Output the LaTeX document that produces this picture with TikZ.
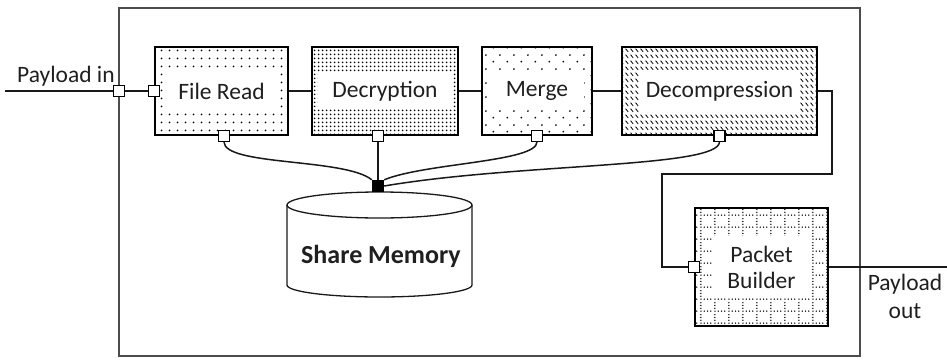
\documentclass[tikz,border=0pt]{standalone}
\usepackage{fontspec}
\setmainfont{Carlito}
\usetikzlibrary{patterns}

% fill patterns of the processing stages
\pgfdeclarepatternformonly{sparsedots}{\pgfpoint{0pt}{0pt}}{\pgfpoint{7.5pt}{7.5pt}}{\pgfpoint{7.5pt}{7.5pt}}{%
  \pgfpathcircle{\pgfpoint{3.75pt}{3.75pt}}{1.05pt}\pgfusepath{fill}}
\pgfdeclarepatternformonly{densedots}{\pgfpoint{0pt}{0pt}}{\pgfpoint{3.6pt}{3.6pt}}{\pgfpoint{3.6pt}{3.6pt}}{%
  \pgfpathcircle{\pgfpoint{1.8pt}{1.8pt}}{1.05pt}\pgfusepath{fill}}
\pgfdeclarepatternformonly{staggerdots}{\pgfpoint{0pt}{0pt}}{\pgfpoint{14pt}{14pt}}{\pgfpoint{14pt}{14pt}}{%
  \pgfpathcircle{\pgfpoint{3.5pt}{3.5pt}}{1.05pt}%
  \pgfpathcircle{\pgfpoint{10.5pt}{10.5pt}}{1.05pt}\pgfusepath{fill}}
\pgfdeclarepatternformonly{shorthatch}{\pgfpoint{0pt}{0pt}}{\pgfpoint{5pt}{6pt}}{\pgfpoint{5pt}{6pt}}{%
  \pgfsetlinewidth{0.95pt}%
  \pgfpathmoveto{\pgfpoint{0.7pt}{5pt}}\pgfpathlineto{\pgfpoint{3.8pt}{1.2pt}}\pgfusepath{stroke}}
\pgfdeclarepatternformonly{dotgrid}{\pgfpoint{0pt}{0pt}}{\pgfpoint{14pt}{12pt}}{\pgfpoint{14pt}{12pt}}{%
  \foreach \k in {0,1,2,3}{\pgfpathcircle{\pgfpoint{1pt}{\k*3pt+1pt}}{0.8pt}}%
  \foreach \k in {1,2,3}{\pgfpathcircle{\pgfpoint{\k*3.5pt+1pt}{1pt}}{0.8pt}}%
  \pgfusepath{fill}}

% pattern over the whole box, a white field behind the label
\newcommand\stagefill[3]{%
  \fill[pattern=#1] (path picture bounding box.south west) rectangle (path picture bounding box.north east);
  \fill[white] ([xshift=#2,yshift=#3]path picture bounding box.south west)
    rectangle ([xshift=-#2,yshift=-#3]path picture bounding box.north east);}

\tikzset{
  stage/.style={draw, line width=1.6pt, inner sep=0pt, align=center,
    font=\fontsize{23.5}{26}\selectfont, text=black!88},
  port/.style={draw, fill=white, line width=1.2pt, minimum size=11pt, inner sep=0pt},
  junction/.style={fill=black, minimum size=12pt, inner sep=0pt},
  wire/.style={line width=1.5pt, black!90},
  frame/.style={line width=2.2pt, black!70},
  label/.style={font=\fontsize{23.5}{28}\selectfont, text=black!88, inner sep=0pt, align=center},
  store/.style={line width=1.3pt, black!90}
}

\begin{document}
\begin{tikzpicture}[x=1pt, y=-1pt]
\useasboundingbox (0,0) rectangle (947,359);

% enclosing unit
\draw[frame] (119,8) rectangle (860,356);

% processing stages
\node[stage, minimum width=133pt, minimum height=88pt,
      path picture={\stagefill{sparsedots}{8pt}{23pt}}] (fr) at (221.5,91) {File Read};
\node[stage, minimum width=146pt, minimum height=88pt,
      path picture={\stagefill{densedots}{6pt}{26pt}}] (de) at (385,91) {Decryption};
\node[stage, minimum width=110pt, minimum height=88pt,
      path picture={\stagefill{staggerdots}{8pt}{25pt}}] (me) at (537,91) {Merge};
\node[stage, minimum width=195pt, minimum height=88pt,
      path picture={\stagefill{shorthatch}{18pt}{23pt}}] (dc) at (719.5,91) {Decompression};
\node[stage, minimum width=133pt, minimum height=118pt,
      path picture={\stagefill{dotgrid}{17pt}{28pt}}] (pb) at (761.5,267) {Packet\\Builder};

% shared memory store
\draw[store, fill=white] (287,205) -- (287,285)
  arc[start angle=180, end angle=360, x radius=92.5pt, y radius=12pt]
  -- (472,205);
\draw[store] (379.5,205) ellipse [x radius=92.5pt, y radius=13pt];
\node[label, font=\fontsize{26}{30}\selectfont\bfseries] (mem) at (381,256) {Share Memory};

% ports and junction
\node[junction] (jn) at (378,186) {};
\node[port] (pIn) at (119,91) {};
\node[port] (frIn) at (fr.west) {};
\node[port] (frB) at ([xshift=2.5pt]fr.south) {};
\node[port] (deB) at (de.south -| jn) {};
\node[port] (meB) at (me.south) {};
\node[port] (dcB) at (dc.south) {};
\node[port] (pbIn) at (pb.west) {};

\coordinate (src) at (5,91);
\coordinate (sink) at (947,267);

% data path
\draw[wire] (src) -- (pIn);
\draw[wire] (pIn) -- (frIn);
\draw[wire] (fr) -- (de);
\draw[wire] (de) -- (me);
\draw[wire] (me) -- (dc);
\draw[wire] (dc.east) -- (832,91) -- (832,174) -- (662,174) |- (pbIn);
\draw[wire] (pb.east) -- (sink);

% links to shared memory
\draw[wire] (frB.south) .. controls (224,166) and (345,158) .. (jn.north west);
\draw[wire] (deB) -- (jn);
\draw[wire] (meB.south) .. controls (537,162) and (425,163) .. (jn.north east);
\draw[wire] (dcB.south) .. controls (719,168) and (520,163) .. (jn.east);

% external labels
\node[label, anchor=base west] (lin) at (17,82) {Payload in};
\node[label] (lout) at (905,296) {Payload\\out};
\end{tikzpicture}
\end{document}
